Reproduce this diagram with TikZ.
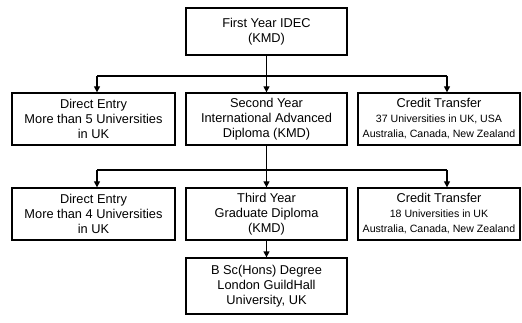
\documentclass[tikz,border=0pt]{standalone}
\usepackage{fontspec}
\setmainfont{Liberation Sans}
\usetikzlibrary{arrows.meta}
\begin{document}
\begin{tikzpicture}[x=1pt,y=-1pt,
  box/.style={draw,line width=1.3pt,minimum height=52pt,inner sep=1pt,align=center,
    font=\fontsize{12.8}{15}\selectfont},
  small/.style={font=\fontsize{10.6}{15}\selectfont},
  conn/.style={line width=1.3pt},
  arr/.style={line width=1.3pt,-{Triangle[length=6pt,width=6pt]}}]
\useasboundingbox (0,0) rectangle (522,323);
\node[box,minimum width=161pt,minimum height=47pt] (top) at (266.5,31.5) {First Year IDEC\\(KMD)};
\node[box,minimum width=163pt] (L1) at (93.5,119) {Direct Entry\\More than 5 Universities\\in UK};
\node[box,minimum width=161pt] (M1) at (266.5,119) {Second Year\\International Advanced\\Diploma (KMD)};
\node[box,small,minimum width=162pt] (R1) at (439,119) {{\fontsize{12.8}{15}\selectfont Credit Transfer}\\37 Universities in UK, USA\\Australia, Canada, New Zealand};
\node[box,minimum width=163pt] (L2) at (93.5,214) {Direct Entry\\More than 4 Universities\\in UK};
\node[box,minimum width=161pt] (M2) at (266.5,214) {Third Year\\Graduate Diploma\\(KMD)};
\node[box,small,minimum width=162pt] (R2) at (439,214) {{\fontsize{12.8}{15}\selectfont Credit Transfer}\\18 Universities in UK\\Australia, Canada, New Zealand};
\node[box,minimum width=161pt,minimum height=56pt] (B) at (266.5,286) {B Sc(Hons) Degree\\London GuildHall\\University, UK};
\coordinate (a1) at (97,76);
\coordinate (m1) at (266.5,76);
\coordinate (b1) at (447,76);
\coordinate (a2) at (97,170);
\coordinate (m2) at (266.5,170);
\coordinate (b2) at (447,170);
\draw[conn] (top.south) -- (m1);
\draw[conn] (a1) -- (b1);
\draw[arr] (a1) -- (a1 |- L1.north);
\draw[arr] (m1) -- (M1.north);
\draw[arr] (b1) -- (b1 |- R1.north);
\draw[conn] (M1.south) -- (m2);
\draw[conn] (a2) -- (b2);
\draw[arr] (a2) -- (a2 |- L2.north);
\draw[arr] (m2) -- (M2.north);
\draw[arr] (b2) -- (b2 |- R2.north);
\draw[arr] (M2.south) -- (B.north);
\end{tikzpicture}
\end{document}
